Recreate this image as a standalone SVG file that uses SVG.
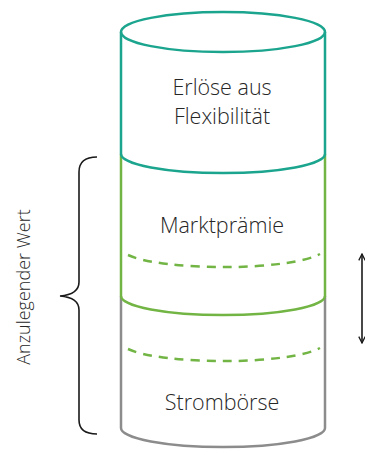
<svg xmlns="http://www.w3.org/2000/svg" width="365" height="457" viewBox="0 0 365 457">
<style>
.teal{fill:none;stroke:#1BA58E;stroke-width:2.5}
.green{fill:none;stroke:#72B545;stroke-width:2.5}
.gray{fill:none;stroke:#8C8C8C;stroke-width:2.5}
.dash{fill:none;stroke:#72B545;stroke-width:2.5;stroke-dasharray:9 7}
.lbl{font-family:"Open Sans","Liberation Sans",sans-serif;font-size:21.5px;fill:#262626;text-anchor:middle;font-weight:300}
.side{font-size:18px}
.blk{fill:none;stroke:#1a1a1a;stroke-width:1.6}
</style>
<defs>
<marker id="ah" viewBox="0 0 10 10" refX="9" refY="5" markerWidth="8" markerHeight="8" orient="auto-start-reverse" markerUnits="userSpaceOnUse">
<path d="M1,1 L9,5 L1,9" fill="none" stroke="#1a1a1a" stroke-width="1.6"/>
</marker>
</defs>
<rect width="365" height="457" fill="#fff"/>
<g id="stromboerse">
<path class="gray" d="M121,296 V428 A102,19 0 0 0 325,428 V296"/>
<text class="lbl" x="222" y="410">Strombörse</text>
</g>
<g id="marktpraemie">
<path class="green" d="M121,154 V296 A102,19 0 0 0 325,296 V154"/>
<text class="lbl" x="222" y="233">Marktprämie</text>
</g>
<g id="dashes">
<path class="dash" d="M128,255 A102,19 0 0 0 320,254"/>
<path class="dash" d="M128,349 A102,19 0 0 0 320,348"/>
</g>
<g id="flexibilitaet">
<path class="teal" d="M121,32 V154 A102,19 0 0 0 325,154 V32"/>
<ellipse class="teal" cx="223" cy="32" rx="102" ry="20"/>
<text class="lbl" x="222" y="95">Erlöse aus</text>
<text class="lbl" x="222" y="124">Flexibilität</text>
</g>
<g id="anzulegender-wert">
<path class="blk" d="M97,157 C85,157 79,162 79,172 V282 C79,290 72,295 60,296 C72,297 79,302 79,310 V420 C79,430 85,434 97,434"/>
<text class="lbl side" transform="translate(30,287) rotate(-90)" x="0" y="0">Anzulegender Wert</text>
</g>
<g id="connectors">
<line class="blk" x1="362" y1="254" x2="362" y2="343" marker-start="url(#ah)" marker-end="url(#ah)"/>
</g>
</svg>
